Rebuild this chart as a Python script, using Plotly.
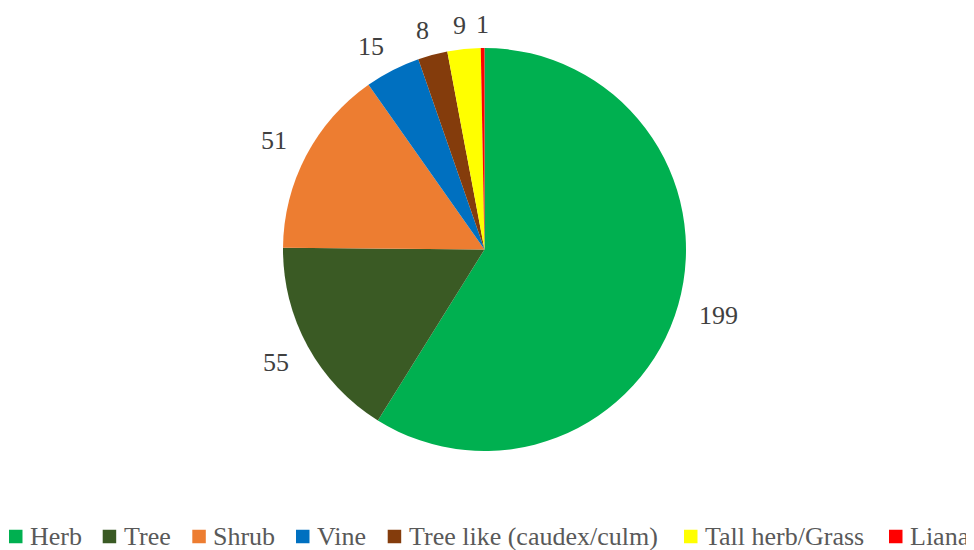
import math
import plotly.graph_objects as go

# Growth forms and number of species
categories = ["Herb", "Tree", "Shrub", "Vine", "Tree like (caudex/culm)", "Tall herb/Grass", "Liana"]
counts = [199, 55, 51, 15, 8, 9, 1]
colors = ["#00B050", "#3A5A24", "#ED7D31", "#0070C0", "#843C0C", "#FFFF00", "#FF0000"]

W, H = 974, 550
FONT = "Times New Roman, Liberation Serif, serif"
OFF = 8  # page body margin offsets the figure by 8px

# Pie placement in pixels (domain is square so radius = half of it)
cx, cy, R = 484.5 - OFF, 249.5 - OFF, 201.5

fig = go.Figure(
    go.Pie(
        labels=categories,
        values=counts,
        sort=False,
        direction="clockwise",
        rotation=0,
        marker=dict(colors=colors, line=dict(width=0)),
        textinfo="none",
        hoverinfo="label+value+percent",
        domain=dict(x=[(cx - R) / W, (cx + R) / W], y=[1 - (cy + R) / H, 1 - (cy - R) / H]),
        showlegend=False,
    )
)


def soft_sign(t, eps=0.3):
    return t / math.sqrt(t * t + eps * eps)


# Value labels outside each slice, placed at the slice mid-angle (Excel style)
total = sum(counts)
cum = 0
for v in counts:
    theta = math.radians((cum + v / 2) / total * 360)
    cum += v
    s, c = math.sin(theta), math.cos(theta)
    txt = str(v)
    hw = 6.2 * len(txt)
    D = R + 23.5
    px = cx + D * s + hw * soft_sign(s)
    py = cy - D * c - 6 * soft_sign(c) * abs(s)
    fig.add_annotation(
        x=px / W, y=1 - py / H, xref="paper", yref="paper",
        text=txt, showarrow=False, xanchor="center", yanchor="middle",
        font=dict(family=FONT, size=26, color="#404040"),
    )

# Legend drawn along the bottom (square swatch + label)
legend_x = [9, 102.7, 192.3, 296, 387.7, 684, 889]
sq, ly = 13.5, 536.5 - OFF
for name, col, lx in zip(categories, colors, legend_x):
    lx -= OFF
    fig.add_shape(
        type="rect", xref="paper", yref="paper",
        x0=lx / W, x1=(lx + sq) / W, y0=1 - (ly + sq / 2) / H, y1=1 - (ly - sq / 2) / H,
        fillcolor=col, line=dict(width=0),
    )
    fig.add_annotation(
        x=(lx + 20) / W, y=1 - ly / H, xref="paper", yref="paper",
        text=name, showarrow=False, xanchor="left", yanchor="middle",
        xshift=-1, font=dict(family=FONT, size=26, color="#595959"),
    )

fig.update_layout(
    width=W,
    height=H,
    margin=dict(l=0, r=0, t=0, b=0),
    paper_bgcolor="white",
    plot_bgcolor="white",
    font=dict(family=FONT, color="#595959"),
)

fig.write_html("out.html")
